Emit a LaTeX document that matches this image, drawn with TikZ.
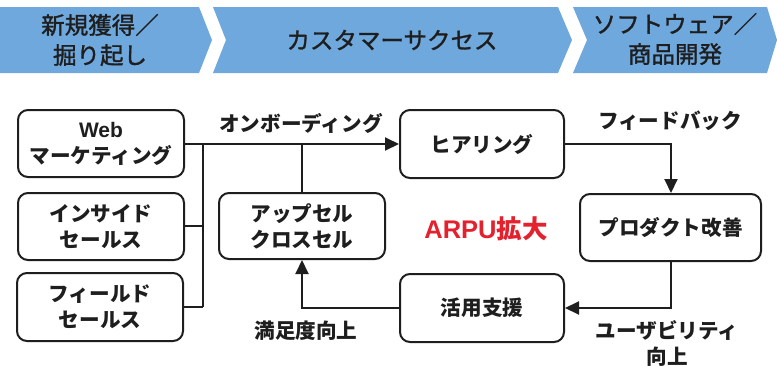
\documentclass[tikz,border=0pt]{standalone}
\usepackage{fontspec}
\newfontfamily\cjk{Noto Sans CJK JP}
\newfontfamily\cjkhdr[FakeBold=1.3]{Noto Sans CJK JP}
\newfontfamily\lat{Liberation Sans}
\usetikzlibrary{arrows.meta}
\definecolor{hdrblue}{HTML}{6FA8DC}
\definecolor{ink}{HTML}{1E1E1E}
\definecolor{arpured}{HTML}{E3222E}
\tikzset{
  hdr/.style={fill=hdrblue, draw=none},
  hdrtext/.style={text=ink, align=center, font=\cjkhdr\fontsize{23.5}{30}\selectfont},
  boxnode/.style={draw=ink, line width=2pt, rounded corners=10pt, align=center, text=ink,
     font=\cjk\bfseries\fontsize{20.6}{26}\selectfont, inner sep=0pt},
  lbl/.style={text=ink, align=center, font=\cjk\bfseries\fontsize{20.6}{26}\selectfont, inner sep=0pt},
  conn/.style={draw=ink, line width=2pt},
  arr/.style={conn, -{Triangle[length=14pt,width=13pt]}}
}
\begin{document}
\begin{tikzpicture}[x=1pt,y=-1pt]
\useasboundingbox (0,0) rectangle (777,365);
% header chevrons
\path[hdr] (0,7) -- (199,7) -- (212,40) -- (199,73) -- (0,73) -- cycle;
\path[hdr] (213,7) -- (558,7) -- (572,40) -- (558,73) -- (213,73) -- (226,40) -- cycle;
\path[hdr] (573,7) -- (767,7) -- (777,40) -- (767,73) -- (573,73) -- (587,40) -- cycle;
\node[hdrtext] (h1) at (100,40) {新規獲得／\\掘り起し};
\node[hdrtext] (h2) at (392,40) {カスタマーサクセス};
\node[hdrtext] (h3) at (675,39) {ソフトウェア／\\商品開発};
% boxes
\node[boxnode, minimum width=166pt, minimum height=67pt] (web) at (101,143.5) {{\lat\bfseries\fontsize{21}{26}\selectfont Web}\\マーケティング};
\node[boxnode, minimum width=166pt, minimum height=67pt] (ins) at (101,226.5) {インサイド\\セールス};
\node[boxnode, minimum width=166pt, minimum height=68pt] (fld) at (100,307) {フィールド\\セールス};
\node[boxnode, minimum width=166pt, minimum height=66pt] (ups) at (302,226) {アップセル\\クロスセル};
\node[boxnode, minimum width=164pt, minimum height=68pt] (hear) at (482,144) {ヒアリング};
\node[boxnode, minimum width=181pt, minimum height=67pt] (prod) at (670.5,227.5) {プロダクト改善};
\node[boxnode, minimum width=164pt, minimum height=68pt] (kat) at (482,308) {活用支援};
% junction coordinates
\coordinate (jt) at (203,144);
\coordinate (jb) at (203,307);
\coordinate (ut) at (302,144);
\coordinate (fr) at (671,144);
\coordinate (pb) at (671,308);
\coordinate (ub) at (302,308);
% connectors
\draw[arr] (web.east |- jt) -- (hear.west);
\draw[conn] (jt) -- (jb);
\draw[conn] (ins.east |- 0,226) -- (203,226);
\draw[conn] (fld.east) -- (jb);
\draw[conn] (ups.north) -- (ut);
\draw[arr] (hear.east) -- (fr) -- (prod.north -| fr);
\draw[arr] (prod.south -| pb) -- (pb) -- (kat.east);
\draw[arr] (kat.west) -- (ub) -- (ups.south);
% labels
\node[lbl] (l1) at (301,123) {オンボーディング};
\node[lbl] (l2) at (670,121) {フィードバック};
\node[lbl] (l3) at (306,331) {満足度向上};
\node[lbl] (l4) at (667,343) {ユーザビリティ\\向上};
\node[text=arpured, inner sep=0pt] (arpu) at (486,229) {\lat\bfseries\fontsize{25.5}{28}\selectfont ARPU\cjk 拡大};
\end{tikzpicture}
\end{document}
